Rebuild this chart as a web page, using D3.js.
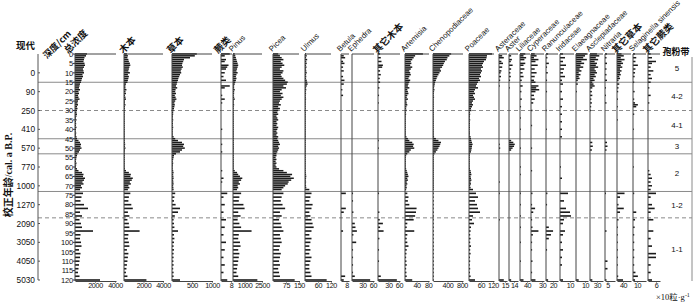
<!DOCTYPE html>
<html>
<head>
<meta charset="utf-8">
<script src="https://cdn.jsdelivr.net/npm/d3@7"></script>
<style>
body { margin: 0; background: #fff; }
svg { display: block; }
text { font-family: "Liberation Sans", Arial, sans-serif; fill: #111; }
.cjk { font-family: "Noto Sans CJK SC", sans-serif; font-weight: 700; }
</style>
</head>
<body>
<svg id="chart" width="700" height="305"></svg>
<script>
// sample depths (cm)
const depths = [0,1,2,3,4,5,6,7,8,9,10,11,12,13,14,15,16,17,18,19,20,21,22,23,24,25,26,27,28,29,30,
  31,32,33,34,35,36,37,38,39,40,41,42,43,44,45,46,47,48,49,50,51,52,53,54,55,56,57,58,59,60,61,62,
  63,64,65,66,67,68,69,70,71,72,74,76,78,80,82,84,86,88,90,92,94,96,98,100,102,104,106,108,110,
  112,114,116,118,120];

// main taxa, one value per depth
const total = [1200,1100,950,900,850,950,1000,900,800,850,900,750,800,700,650,600,
  500,450,400,500,350,400,300,350,450,300,250,300,200,250,200,
  150,200,150,100,150,100,120,100,150,100,80,120,100,150,200,
  350,500,600,550,650,500,400,250, 200,150,120,100,150,120,100,200,350,
  700,850,800,1000,900,750,850,600,700,500,
  800,650,550,900,1300,500,700,450,600,700,1800,550,500,600,650,400,550,500,450,400,350,300,450,2500];
const tree = [300,400,350,450,500,600,650,550,500,450,600,400,500,450,400,350,
  200,150,150,250,150,200,100,150,200,100,100,150,100,100,100,
  50,80,50,50,80,50,50,40,60,50,30,50,40,50,60,
  80,100,120,100,150,100,80,60, 50,40,50,30,50,40,50,100,200,
  500,700,650,900,800,600,700,450,550,400,
  650,500,450,750,900,400,550,350,500,550,1600,450,400,500,550,300,450,400,350,300,250,200,350,2300];
const herb = [620,570,450,300,280,260,250,270,240,220,230,200,180,160,150,130,
  120,100,130,90,80,100,70,90,110,80,60,70,60,50,40,
  30,30,25,20,30,20,25,20,30,20,15,20,20,40,80,
  150,250,300,280,320,250,200,100, 50,40,30,20,30,25,20,20,30,
  40,30,35,40,30,35,40,30,35,40,
  80,60,50,90,200,150,70,40,50,60,150,50,60,50,40,50,40,40,35,40,30,40,40,200];
const pinus = [150,200,250,300,350,400,450,400,350,300,400,300,250,300,250,200,
  150,100,100,150,100,100,50,100,150,50,50,100,50,50,50,
  30,50,30,20,50,30,20,30,40,20,20,30,20,30,40,
  50,60,80,60,80,60,50,40, 30,20,30,20,30,20,30,60,150,
  350,450,600,800,700,500,600,400,450,350,
  700,550,500,900,1000,450,650,400,550,700,1600,500,450,600,650,450,550,500,450,400,350,300,450,2100];
const picea = [30,40,50,60,45,55,65,50,40,60,55,45,50,60,70,85,
  80,60,75,50,40,55,45,60,50,40,35,45,30,40,30,
  25,30,20,25,30,20,25,20,30,25,20,25,20,30,25,
  30,35,40,30,35,30,25,20, 20,15,20,15,20,15,20,35,60,
  80,110,100,120,105,90,85,70,60,50,
  60,50,45,55,70,40,50,35,45,50,60,40,45,50,40,35,45,40,35,40,30,35,40,125];
const ulmus = [5,8,5,10,6,8,5,7,5,6,8,5,6,5,8,10,
  12,8,5,6,4,5,3,4,5,3,4,3,2,3,2,
  2,2,1,2,1,2,1,2,1,2,1,1,2,1,2,
  2,3,2,3,2,2,1,1, 1,1,1,1,1,1,1,2,3,
  4,5,6,5,4,5,4,5,6,20,
  30,25,20,35,30,20,25,30,35,40,30,20,30,25,20,25,20,30,25,20,20,25,30,100];
const artemisia = [62,35,30,25,20,22,18,25,20,15,18,20,15,12,18,15,
  12,10,15,8,10,12,8,6,10,5,6,8,5,4,6,
  3,4,3,2,3,2,3,2,3,2,2,3,2,5,10,
  15,25,30,28,32,20,15,8, 4,3,2,3,2,3,2,4,6,
  8,10,12,8,10,6,8,5,6,4,
  8,12,10,15,40,38,35,30,8,6,32,8,6,8,12,6,5,4,5,6,4,5,6,25];
const cheno = [500,450,400,380,330,300,280,250,200,220,180,150,120,100,80,60,
  50,40,30,40,30,25,20,30,20,15,20,15,10,15,10,
  10,8,10,8,6,8,6,8,6,8,6,10,8,30,80,
  150,220,200,180,150,120,80,40, 10,8,6,8,6,8,6,8,10,
  10,8,12,10,8,10,8,10,8,10,
  10,8,10,12,10,8,10,8,10,12,8,10,8,10,8,10,8,10,8,10,8,10,8,10];
const poaceae = [115,90,88,85,75,70,65,70,60,65,60,55,60,50,55,45,
  40,35,45,30,25,30,20,25,30,20,15,20,15,10,12,
  5,6,5,4,6,4,5,4,5,4,3,5,4,8,10,
  12,15,18,15,14,12,10,5, 4,3,4,3,4,3,4,5,8,
  10,12,8,10,12,8,10,6,8,20,
  35,45,30,40,45,55,20,15,25,10,8,6,8,6,10,6,8,5,6,4,6,5,8,30];

// minor taxa, [depth, value] for non-zero samples
const fern = [[0,7],[1,3],[3,4],[4,3],[6,6],[7,5],[8,4],[10,3],[12,2],[14,4],[17,7],[18,3],[22,1],[24,3],[26,1],[40,1],[48,1],[52,1],[62,1],[66,2],[68,1],[74,5],[76,2],[80,3],[84,2],[88,4],[92,3],[96,2],[100,4],[104,3],[108,2],[112,3],[116,2],[120,5]];
const betula = [[1,4],[2,6],[4,3],[5,5],[7,3],[9,4],[12,3],[14,5],[16,4],[19,2],[22,3],[74,7],[82,7],[84,4],[94,3],[118,6],[120,4]];
const ephedra = [[74,3],[78,3],[84,4],[90,8],[92,10],[94,14],[96,4],[100,12],[104,3],[108,3],[112,3],[116,3],[118,8],[120,52]];
const otherTree = [[0,6],[2,8],[4,10],[6,14],[7,12],[9,6],[11,8],[13,5],[15,6],[18,4],[22,3],[26,2],[46,2],[50,2],[74,3],[84,4],[88,5],[90,14],[92,6],[94,16],[98,4],[104,3],[110,3],[118,8],[120,54]];
const asteraceae = [[1,8],[2,12],[4,6],[5,10],[7,8],[9,6],[10,4],[12,5],[14,3],[17,2],[48,2],[50,3],[68,2],[74,2],[88,2],[120,12]];
const aster = [[1,6],[3,8],[4,5],[6,10],[8,6],[10,4],[12,5],[14,3],[18,2],[46,6],[47,12],[48,16],[49,14],[50,10],[51,6],[120,6]];
const liliaceae = [[0,30],[1,20],[2,35],[3,25],[5,30],[6,20],[8,25],[10,15],[12,20],[14,10],[17,15],[20,8],[24,10],[28,6],[34,5],[40,5],[50,5],[60,5],[64,5],[74,5],[80,5],[86,5],[92,5],[100,5],[110,5],[120,20]];
const cyperaceae = [[0,10],[1,15],[2,8],[3,20],[4,12],[6,18],[8,10],[10,15],[12,10],[14,8],[15,12],[17,20],[18,14],[19,22],[20,12],[22,8],[24,10],[26,6],[30,4],[38,3],[50,3],[62,3],[74,4],[80,3],[82,11],[84,6],[88,3],[92,4],[94,20],[96,5],[100,3],[104,3],[110,4],[116,3],[120,12]];
const ranunculaceae = [[0,6],[2,4],[5,8],[7,3],[10,5],[14,3],[20,3],[30,2],[40,2],[74,4],[80,3],[92,8],[94,20],[96,14],[98,8],[104,3],[120,6]];
const iridaceae = [[0,3],[2,5],[4,3],[6,6],[8,4],[10,3],[12,5],[14,2],[16,3],[20,2],[24,3],[28,2],[32,2],[36,2],[40,2],[44,2],[60,1],[66,2],[74,8],[78,4],[82,6],[84,10],[86,11],[88,4],[90,3],[94,5],[96,3],[100,2],[104,3],[108,2],[112,2],[120,3]];
const elaeagnaceae = [[0,12],[1,10],[2,8],[3,12],[4,6],[5,9],[6,5],[7,8],[8,4],[9,6],[10,3],[11,5],[12,3],[13,4],[14,2],[16,2],[20,1],[120,3]];
const asclepiadaceae = [[0,30],[1,40],[2,25],[3,35],[4,20],[5,30],[6,25],[7,35],[8,20],[9,25],[10,30],[11,20],[12,25],[13,15],[14,20],[15,10],[16,15],[17,20],[18,10],[20,8],[22,10],[24,6],[26,8],[28,5],[30,4],[47,10],[49,12],[51,8],[120,10]];
const nitraria = [[0,4],[2,3],[5,4],[8,3],[11,3],[14,4],[18,2],[22,2],[26,3],[47,4],[49,5],[51,3],[74,2],[94,3],[110,5],[114,5],[120,3]];
const otherHerb = [[0,30],[1,45],[2,25],[3,50],[4,30],[5,40],[6,25],[7,35],[8,20],[9,30],[10,20],[11,25],[12,15],[13,20],[14,10],[16,15],[18,10],[20,8],[24,6],[28,5],[35,4],[74,50],[76,20],[80,10],[82,45],[84,20],[88,10],[92,5],[96,3],[100,5],[104,4],[108,5],[112,3],[118,8],[120,40]];
const selaginella = [[0,5],[2,8],[4,6],[6,12],[8,6],[10,5],[12,4],[15,3],[20,4],[24,3],[26,5],[27,12],[28,8],[32,3],[40,2],[60,2],[74,3],[84,8],[88,5],[92,4],[96,3],[100,3],[104,3],[108,3],[112,3],[116,6],[118,12],[120,5]];
const otherFern = [[0,2],[2,3],[4,6],[5,3],[7,2],[9,4],[11,2],[13,3],[15,2],[18,1],[22,2],[26,1],[62,1],[64,2],[66,3],[68,2],[70,3],[72,2],[74,6],[76,2],[80,3],[82,5],[84,2],[88,4],[94,4],[98,2],[102,3],[106,6],[108,6],[112,2],[116,2],[120,3]];

// age axis
const ageDepths = [10,20,30,40,50,60,70,80,90,100,110,120];
const ageLabels = ["0","90","250","410","570","770","1000","1270","2090","3050","4050","5030"];
const depthTicks = [0,5,10,15,20,25,30,35,40,45,50,55,60,65,70,75,80,85,90,95,100,105,110,115,120];

// zones
const zoneLines = [15,30,45,53,73,87];
const zoneDashed = [false,true,false,false,false,true];
const zoneNames = ["5","4-2","4-1","3","2","1-2","1-1"];

// panel layout
const panels = [
  {label:"总浓度", cjk:true, data:total, x:75, w:41, max:4100, ticks:[2000,4000], tx:68},
  {label:"木本", cjk:true, data:tree, x:124, w:39, max:4000, ticks:[2000,4000]},
  {label:"草本", cjk:true, data:herb, x:172, w:40, max:1000, ticks:[500,1000]},
  {label:"蕨类", cjk:true, data:fern, x:221, w:11, max:8.8, ticks:[8], tx:218},
  {label:"Pinus", data:pinus, x:233, w:29, max:2500, ticks:[1000,2500]},
  {label:"Picea", data:picea, x:273, w:26, max:150, ticks:[75,150]},
  {label:"Ulmus", data:ulmus, x:305, w:26, max:120, ticks:[60,120]},
  {label:"Betula", data:betula, x:341, w:8, max:11.6, ticks:[8]},
  {label:"Ephedra", data:ephedra, x:352, w:22, max:63, ticks:[30,60]},
  {label:"其它木本", cjk:true, data:otherTree, x:378, w:22, max:63, ticks:[30,60]},
  {label:"Artemisia", data:artemisia, x:405, w:24, max:83, ticks:[40,80]},
  {label:"Chenopodiaceae", data:cheno, x:433, w:30, max:828, ticks:[400,800]},
  {label:"Poaceae", data:poaceae, x:469, w:25, max:125, ticks:[60,120]},
  {label:"Asteraceae", data:asteraceae, x:499, w:8, max:20, ticks:[15]},
  {label:"Aster", data:aster, x:509, w:9, max:25, ticks:[14]},
  {label:"Liliaceae", data:liliaceae, x:520, w:10, max:57, ticks:[40]},
  {label:"Cyperaceae", data:cyperaceae, x:531, w:13, max:35, ticks:[30]},
  {label:"Ranunculaceae", data:ranunculaceae, x:546, w:12, max:34, ticks:[20]},
  {label:"Iridaceae", data:iridaceae, x:560, w:14, max:14, ticks:[10]},
  {label:"Elaeagnaceae", data:elaeagnaceae, x:576, w:12, max:13.3, ticks:[10]},
  {label:"Asclepiadaceae", data:asclepiadaceae, x:590, w:13, max:56, ticks:[30]},
  {label:"Nitraria", data:nitraria, x:605, w:10, max:20, ticks:[5]},
  {label:"其它草本", cjk:true, data:otherHerb, x:617, w:14, max:93, ticks:[40]},
  {label:"Selaginella sinensis", data:selaginella, x:633, w:13, max:32, ticks:[10]},
  {label:"其它蕨类", cjk:true, data:otherFern, x:648, w:12, max:9, ticks:[6]}
];

const svg = d3.select("#chart");
const y = d3.scaleLinear().domain([0, 120]).range([54, 280]);
const axisX = 38, rightX = 692, bottomY = 281;

// zone boundary lines
zoneLines.forEach((d, i) => {
  svg.append("line")
    .attr("x1", axisX).attr("x2", rightX)
    .attr("y1", y(d)).attr("y2", y(d))
    .attr("stroke", "#8a8a8a").attr("stroke-width", 1)
    .attr("stroke-dasharray", zoneDashed[i] ? "4,3" : null);
});

// zone column
const zb = [0, ...zoneLines, 120];
zoneNames.forEach((z, i) => {
  svg.append("text")
    .attr("x", 677).attr("y", (y(zb[i]) + y(zb[i + 1])) / 2 + 3)
    .attr("text-anchor", "middle").attr("font-size", 8).text(z);
});
svg.append("line").attr("x1", rightX).attr("x2", rightX)
  .attr("y1", 57).attr("y2", bottomY).attr("stroke", "#8a8a8a");
svg.append("text").attr("class", "cjk").attr("x", 676).attr("y", 55)
  .attr("text-anchor", "middle").attr("font-size", 9).text("孢粉带");

// age axis
const ageG = svg.append("g");
ageG.append("line").attr("x1", axisX).attr("x2", axisX)
  .attr("y1", y(0)).attr("y2", y(120)).attr("stroke", "#555");
ageDepths.forEach((d, i) => {
  ageG.append("line").attr("x1", axisX).attr("x2", axisX + 2)
    .attr("y1", y(d)).attr("y2", y(d)).attr("stroke", "#555");
  ageG.append("text").attr("x", axisX - 3).attr("y", y(d) + 3)
    .attr("text-anchor", "end").attr("font-size", 8.3).text(ageLabels[i]);
});
ageG.append("text").attr("class", "cjk").attr("x", axisX - 3).attr("y", 49)
  .attr("text-anchor", "end").attr("font-size", 9.5).text("现代");
svg.append("text")
  .attr("transform", `translate(12,${(y(0) + y(120)) / 2 + 8}) rotate(-90)`)
  .attr("text-anchor", "middle").attr("font-size", 10).attr("font-weight", 700)
  .style("font-family", "'Liberation Serif','Noto Sans CJK SC',serif")
  .text("校正年龄/cal. a B.P.");

// depth axis labels
depthTicks.forEach(d => {
  svg.append("line").attr("x1", 73).attr("x2", 75)
    .attr("y1", y(d)).attr("y2", y(d)).attr("stroke", "#333");
  svg.append("text").attr("x", 73).attr("y", y(d) + 2.8)
    .attr("text-anchor", "end").attr("font-size", 7.5).attr("letter-spacing", -0.2).text(d);
});
svg.append("text").attr("class", "cjk")
  .attr("transform", "translate(47,59) rotate(-45)")
  .attr("font-size", 9).text("深度/cm");

// panels
panels.forEach(p => {
  const x = d3.scaleLinear().domain([0, p.max]).range([p.x, p.x + p.w]).clamp(true);
  const g = svg.append("g");
  const rows = Array.isArray(p.data[0])
    ? p.data.map(([d, v]) => ({depth: d, v: v}))
    : depths.map((d, i) => ({depth: d, v: p.data[i]}));

  g.selectAll("rect").data(rows.filter(r => r.v > 0)).join("rect")
    .attr("x", p.x)
    .attr("y", r => y(r.depth) - 0.8)
    .attr("width", r => Math.max(0.8, x(r.v) - p.x))
    .attr("height", r => r.depth > 72 ? 1.6 : 1.5)
    .attr("fill", "#1b1b1b");

  g.append("line").attr("x1", p.x).attr("x2", p.x)
    .attr("y1", y(0)).attr("y2", bottomY).attr("stroke", "#444");
  g.append("line").attr("x1", p.x).attr("x2", p.x + p.w)
    .attr("y1", y(0)).attr("y2", y(0)).attr("stroke", "#444");

  const ax = g.append("g").attr("transform", `translate(0,${bottomY})`)
    .call(d3.axisBottom(x).tickValues(p.ticks).tickFormat(d3.format("d"))
      .tickSize(1.5).tickSizeOuter(0));
  ax.select(".domain").attr("stroke", "#444");
  ax.selectAll("line").attr("stroke", "#444");
  ax.selectAll("text").attr("y", 7).attr("dy", null)
    .attr("font-size", 7.2).attr("letter-spacing", -0.35)
    .style("font-family", "'Liberation Sans',Arial,sans-serif").attr("fill", "#111");

  g.append("text")
    .attr("class", p.cjk ? "cjk" : null)
    .attr("transform", `translate(${p.tx !== undefined ? p.tx : p.x - 1},${p.cjk ? 54 : 52}) rotate(-45)`)
    .attr("font-size", p.cjk ? 9.5 : 7.8)
    .text(p.label);
});

// unit
const unit = svg.append("text").attr("x", 656).attr("y", 300).attr("font-size", 8.5)
  .style("font-family", "'Liberation Serif','Noto Sans CJK SC',serif");
unit.append("tspan").text("×10粒·g");
unit.append("tspan").attr("dy", -3.5).attr("font-size", 6).text("-1");
</script>
</body>
</html>
